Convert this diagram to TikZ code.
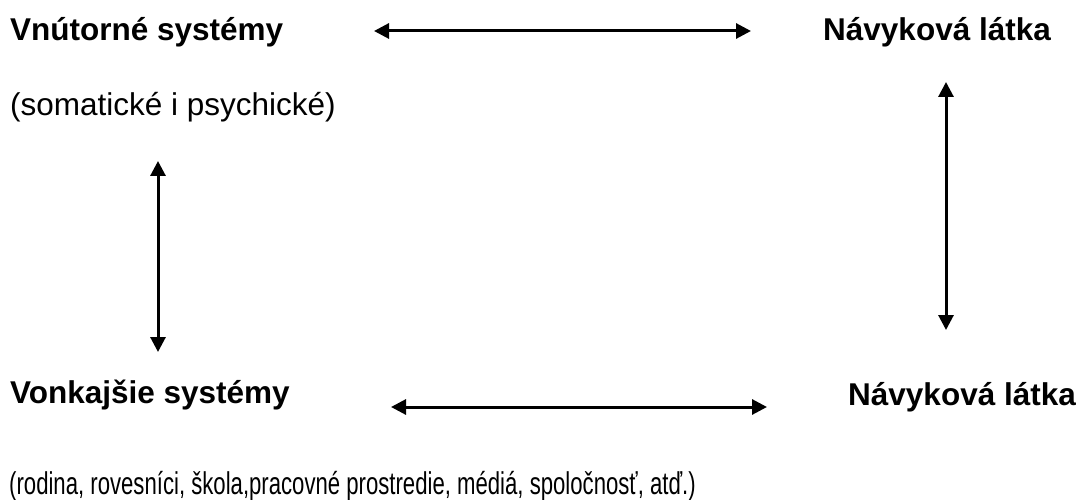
\documentclass[tikz,border=0pt]{standalone}
\usepackage{fontspec}
\setmainfont{Liberation Sans}
\usetikzlibrary{arrows.meta}
\begin{document}
\begin{tikzpicture}[x=1pt,y=-1pt,
  lbl/.style={inner sep=0pt,anchor=base west,font=\fontsize{31.5}{38}\selectfont},
  blbl/.style={lbl,font=\fontsize{31.5}{38}\selectfont\bfseries},
  dbl/.style={line width=3pt,{Triangle[length=15pt,width=15pt]}-{Triangle[length=15pt,width=15pt]}}]
\useasboundingbox (0,0) rectangle (1085,500);
\node[blbl] (vnut) at (10,41) {Vnútorné systémy};
\node[blbl] (nav1) at (823,41) {Návyková látka};
\node[lbl] (som) at (10,116) {(somatické i psychické)};
\node[blbl] (vonk) at (10,403) {Vonkajšie systémy};
\node[blbl] (nav2) at (848,405) {Návyková látka};
\node[lbl] (rod) at (9,494) {\scalebox{0.703}[1]{(rodina, rovesníci, škola,pracovné prostredie, médiá, spoločnosť, atď.)}};
\coordinate (t1) at (374,31);
\coordinate (t2) at (751,31);
\coordinate (b1) at (391,407);
\coordinate (b2) at (767,407);
\coordinate (l1) at (158,161);
\coordinate (l2) at (158,352);
\coordinate (r1) at (946,82);
\coordinate (r2) at (946,330);
\draw[dbl] (t1) -- (t2);
\draw[dbl] (b1) -- (b2);
\draw[dbl] (l1) -- (l2);
\draw[dbl] (r1) -- (r2);
\end{tikzpicture}
\end{document}
